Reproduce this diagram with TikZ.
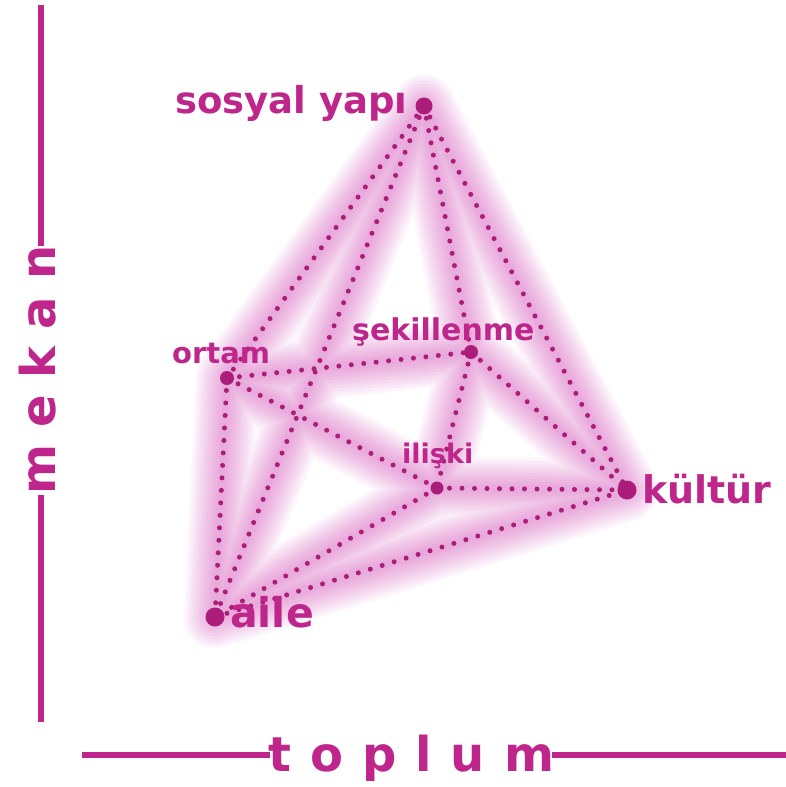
\documentclass[tikz,border=0pt]{standalone}
\usepackage{fontspec}
\setmainfont{DejaVu Sans}
\definecolor{mag}{RGB}{190,38,140}
\definecolor{dotc}{RGB}{172,28,122}
\definecolor{glowc}{RGB}{212,60,180}
\pgfdeclarelayer{bgw}
\pgfdeclarelayer{glow}
\pgfdeclarelayer{edges}
\pgfsetlayers{bgw,glow,edges,main}
\begin{document}
\begin{tikzpicture}[x=1pt,y=-1pt,
  dotn/.style={circle,fill=dotc,inner sep=0pt},
  edge/.style={dotc,line width=5pt,line cap=round,dash pattern=on 0pt off 12.5pt},
  glowline/.style={glowc,line cap=round,line join=round},
  lbl/.style={text=mag,inner sep=0pt,anchor=base west},
  axis/.style={mag,line width=6pt},
  axlbl/.style={text=mag,inner sep=0pt,font=\fontsize{48}{48}\selectfont\bfseries}]
\begin{pgfonlayer}{bgw}
\fill[white] (0,0) rectangle (786,787);
\end{pgfonlayer}
\useasboundingbox (0,0) rectangle (786,787);

% vertices
\node[dotn,minimum size=17pt] (S)  at (424,106) {};
\node[dotn,minimum size=14pt] (O)  at (227,378) {};
\node[dotn,minimum size=14pt] (Sk) at (471,352) {};
\node[dotn,minimum size=13pt] (I)  at (437,488) {};
\node[dotn,minimum size=19pt] (K)  at (627,490) {};
\node[dotn,minimum size=19pt] (A)  at (215,617) {};

% glow
\begin{pgfonlayer}{glow}
\foreach \w in {62,56,50,44,38,32,26,20,14,8}{
  \begin{scope}[transparency group,opacity=0.05]
    \foreach \a/\b in {S/O,S/A,S/Sk,S/K,O/Sk,O/I,O/A,Sk/I,Sk/K,I/K,I/A,A/K}
      \draw[glowline,line width=\w pt] (\a.center) -- (\b.center);
  \end{scope}
}
\end{pgfonlayer}

% dotted connectors
\begin{pgfonlayer}{edges}
\foreach \a/\b in {S/O,S/A,S/Sk,S/K,O/Sk,O/I,O/A,Sk/I,Sk/K,I/K,I/A,A/K}
  \draw[edge] (\a.center) -- (\b.center);
\end{pgfonlayer}

% labels
\node[lbl,font=\fontsize{37}{37}\selectfont\bfseries] (tS) at (175,113) {sosyal yapı};
\node[lbl,font=\fontsize{38}{38}\selectfont\bfseries] (tK) at (642,503) {kültür};
\node[lbl,font=\fontsize{41}{41}\selectfont\bfseries] (tA) at (230,627) {aile};
\node[lbl,font=\fontsize{29}{29}\selectfont\bfseries] (tO) at (172,363) {ortam};
\node[lbl,font=\fontsize{30}{30}\selectfont\bfseries] (tSk) at (352,340) {şekillenme};
\node[lbl,font=\fontsize{27}{27}\selectfont\bfseries] (tI) at (402,463) {ilişki};

% axes
\node[axlbl,anchor=base west] (top) at (268,771) {t\hspace{19pt}o\hspace{19pt}p\hspace{19pt}l\hspace{19pt}u\hspace{19pt}m};
\coordinate (h0) at (82,755);
\coordinate (h1) at (786,755);
\draw[axis] (h0) -- ([xshift=2pt]top.west |- h0);
\draw[axis] ([xshift=-2pt]top.east |- h0) -- (h1);

\node[axlbl,rotate=90,anchor=base west] (mek) at (55,495) {m\hspace{17pt}e\hspace{17pt}k\hspace{17pt}a\hspace{17pt}n};
\coordinate (v0) at (41,5);
\coordinate (v1) at (41,722);
\draw[axis] (v0) -- (v0 |- mek.east);
\draw[axis] (v0 |- mek.west) -- (v1);
\end{tikzpicture}
\end{document}
